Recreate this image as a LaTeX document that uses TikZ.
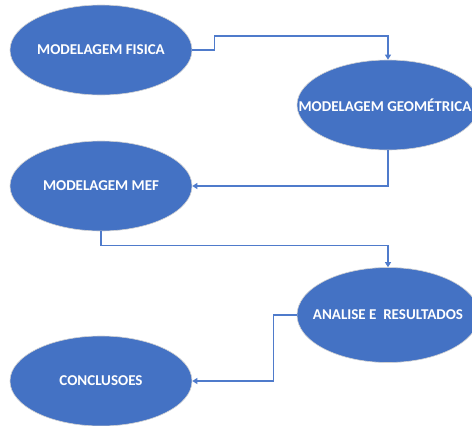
\documentclass[tikz,border=0pt]{standalone}
\usepackage{fontspec}
\setmainfont{Carlito}
\usetikzlibrary{shapes.geometric,arrows.meta}
\definecolor{azul}{HTML}{4472C4}
\definecolor{linha}{HTML}{4F7BCB}
\tikzset{
  bolha/.style={ellipse,fill=azul,draw=gray!35,line width=.6pt,minimum width=182,minimum height=90,inner sep=0pt},
  rotulo/.style={text=white,font=\bfseries\fontsize{15}{17}\selectfont,inner sep=0pt},
  seta/.style={draw=linha,line width=1.1pt,-{Triangle[width=6pt,length=5pt]}}
}
\begin{document}
\begin{tikzpicture}[x=1pt,y=-1pt]
  \useasboundingbox[fill=white] (0,0) rectangle (472,426);
  \node[bolha,label={[rotulo]center:MODELAGEM FISICA}] (fisica) at (101,50) {};
  \node[bolha,label={[rotulo,xshift=-3pt]center:MODELAGEM GEOMÉTRICA}] (geometrica) at (388,105) {};
  \node[bolha,label={[rotulo]center:MODELAGEM MEF}] (mef) at (101,186) {};
  \node[bolha,minimum height=95,label={[rotulo]center:ANALISE E\ \ RESULTADOS}] (analise) at (388,315) {};
  \node[bolha,label={[rotulo]center:CONCLUSOES}] (conclusoes) at (101,381) {};
  % ligacoes
  \draw[seta] (fisica.east) -- ++(22,0) -- ++(0,-14) -| (geometrica.north);
  \draw[seta] (geometrica.south) |- (mef.east);
  \draw[seta] (mef.south) -- ++(0,14) -| (analise.north);
  \draw[seta] (analise.west) -- ++(-23,0) |- (conclusoes.east);
\end{tikzpicture}
\end{document}
